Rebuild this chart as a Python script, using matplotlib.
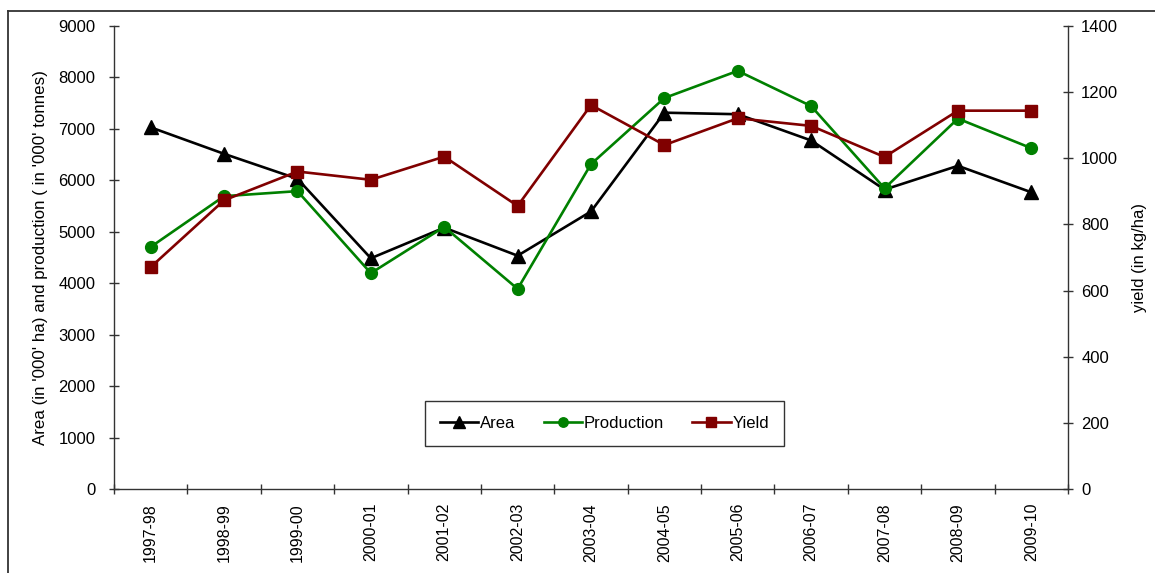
import matplotlib
matplotlib.use("Agg")
import matplotlib.pyplot as plt
from matplotlib.lines import Line2D

plt.rcParams['font.family'] = ['Liberation Sans', 'DejaVu Sans']

seasons = ["1997-98", "1998-99", "1999-00", "2000-01", "2001-02", "2002-03",
           "2003-04", "2004-05", "2005-06", "2006-07", "2007-08", "2008-09",
           "2009-10"]
area = [7030, 6515, 6030, 4485, 5080, 4535, 5395, 7315, 7285, 6775, 5820, 6282, 5768]
production = [4705, 5692, 5790, 4195, 5095, 3890, 6315, 7600, 8128, 7443, 5845, 7200, 6625]
yield_kg = [671, 873, 960, 935, 1005, 856, 1161, 1040, 1121, 1098, 1004, 1144, 1144]

fig = plt.figure(figsize=(11.55, 5.73), dpi=100)
ax = fig.add_axes([114 / 1155, 1 - 489 / 573, (1068 - 114) / 1155, (489 - 26) / 573])
ax2 = ax.twinx()

x = list(range(len(seasons)))
lw = 1.9
ms = 8.5
l1, = ax.plot(x, area, color='black', lw=lw, marker='^', ms=ms + 1.5, label='Area', zorder=3)
l2, = ax.plot(x, production, color='#008000', lw=lw, marker='o', ms=ms, label='Production', zorder=4)
l3, = ax2.plot(x, yield_kg, color='#800000', lw=lw, marker='s', ms=ms, label='Yield', zorder=3)

ax.set_xlim(-0.5, len(seasons) - 0.5)
ax.set_ylim(0, 9000)
ax2.set_ylim(0, 1400)
ax.set_yticks(range(0, 9001, 1000))
ax2.set_yticks(range(0, 1401, 200))

# category labels centred in each slot, tick marks on the slot boundaries
ax.set_xticks(x)
ax.set_xticklabels(seasons, rotation=90, fontsize=11.5)
ax.set_xticks([i - 0.5 for i in range(len(seasons) + 1)], minor=True)
ax.tick_params(axis='x', which='major', length=0, pad=10)
ax.tick_params(axis='x', which='minor', direction='inout', length=7, width=1, color='#333333')

ax.tick_params(axis='y', direction='inout', length=7, width=1, labelsize=12, pad=10, color='#333333')
ax2.tick_params(axis='y', direction='inout', length=7, width=1, labelsize=12, pad=6, color='#333333')

for a in (ax, ax2):
    a.spines['top'].set_visible(False)
    for s in ('left', 'right', 'bottom'):
        a.spines[s].set_color('#333333')
        a.spines[s].set_linewidth(1)
ax.spines['right'].set_visible(False)
ax2.spines['left'].set_visible(False)
ax2.spines['bottom'].set_visible(False)

ax.set_ylabel("Area (in '000' ha) and production ( in '000' tonnes)", fontsize=12.2, labelpad=7)
ax2.set_ylabel("yield (in kg/ha)", fontsize=12, labelpad=10)

leg = ax2.legend(handles=[l1, l2, l3], loc='center', bbox_to_anchor=(0.514, 0.1425),
                 ncol=3, fontsize=12, frameon=True, fancybox=False, edgecolor='black',
                 handlelength=2.3, columnspacing=1.7, handletextpad=0.1,
                 borderpad=0.9, markerscale=0.8)
leg.get_frame().set_linewidth(1)

# outer border of the figure
fig.add_artist(Line2D([8 / 1155, 8 / 1155], [-0.05, 1 - 11 / 573], transform=fig.transFigure,
                      color='#333333', lw=1.3))
fig.add_artist(Line2D([8 / 1155, 1.05], [1 - 11 / 573, 1 - 11 / 573], transform=fig.transFigure,
                      color='#333333', lw=1.3))

fig.savefig('out.png', dpi=100)
